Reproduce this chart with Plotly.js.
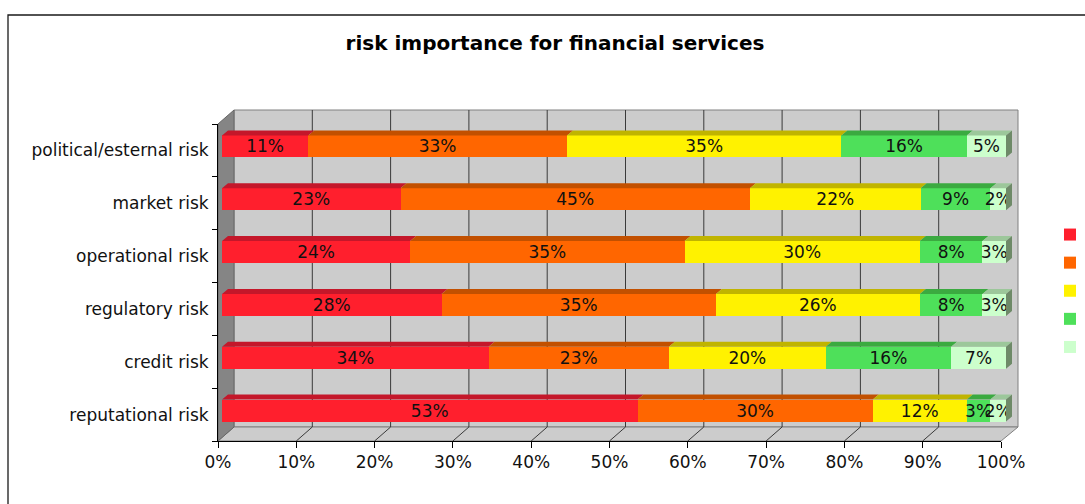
<!DOCTYPE html>
<html>
<head>
<meta charset="utf-8">
<script src="https://cdn.plot.ly/plotly-3.0.1.min.js"></script>
<style>
html,body{margin:0;padding:0;overflow:hidden;background:#fff;}
#chart{width:1085px;height:504px;}
</style>
</head>
<body>
<div id="chart"></div>
<script>
// ---------------- data ----------------
const categories = ['political/esternal risk','market risk','operational risk','regulatory risk','credit risk','reputational risk'];
const seriesNames = ['1','2','3','4','5'];
const s1 = [11,23,24,28,34,53];
const s2 = [33,45,35,35,23,30];
const s3 = [35,22,30,26,20,12];
const s4 = [16, 9, 8, 8,16, 3];
const s5 = [ 5, 2, 3, 3, 7, 2];
const pctTicks = [0,10,20,30,40,50,60,70,80,90,100];
const pctTickText = ['0%','10%','20%','30%','40%','50%','60%','70%','80%','90%','100%'];

// ---------------- styles ----------------
const frontColors = ['#FF1F2D','#FF6600','#FFF200','#4EE05A','#CCFFCC'];
const topColors   = ['#C4172A','#C25000','#C0B400','#3BAA40','#9CC79A'];
const sideColor   = '#6E8A68';

const W = 1085, H = 504;
const fx = p => p / W;
const fy = p => 1 - p / H;

// geometry (pixels)
const BAR_X0 = 222, PXU = 7.84;          // bar front face: 0% at 222, 7.84 px per %
const FRONT_X0 = 218, FRONT_X1 = 1001;   // front axis
const BACK_X0 = 234, BACK_X1 = 1018;     // back wall
const BACK_TOP = 110, BACK_BOT = 427;
const FRONT_TOP = 124, FRONT_BOT = 441;
const DEPTH_X = 16;
const ROW_PX = (FRONT_BOT - FRONT_TOP) / 6;
const BAR_W = 22 / ROW_PX;               // bar thickness in category units
const BAR_SHIFT = 4 / ROW_PX;            // bars sit slightly behind the front plane
const TOP_DY = 5 / ROW_PX;               // top face depth (category units)
const TOP_DX = 6 / PXU;                  // top face skew (x units)

const series = [s1,s2,s3,s4,s5];
const pos = categories.map((c,i) => categories.length - 1 - i);
const totals = categories.map((c,j) => series.reduce((a,s)=>a+s[j],0));

const traces = [];
// front faces
series.forEach((s,k) => {
  traces.push({
    type:'bar', orientation:'h', name: seriesNames[k],
    legendgroup: 'g'+k,
    x: s, y: pos,
    width: BAR_W, offset: BAR_SHIFT - BAR_W/2,
    marker:{color: frontColors[k], line:{width:0}},
    text: s.map(v => v + '%'),
    textposition:'inside', insidetextanchor:'middle', textangle:0,
    constraintext:'none', cliponaxis:false,
    textfont:{family:'DejaVu Sans', size:17, color:'#111'},
    hovertemplate: '%{y}: '+'%{text}<extra>'+seriesNames[k]+'</extra>'
  });
});
// top faces and side face (3D look), computed from the same arrays
const cum = categories.map(()=>0);
series.forEach((s,k) => {
  const xs = [], ys = [];
  s.forEach((v,j) => {
    const a = cum[j] / totals[j] * 100;
    const b = (cum[j] + v) / totals[j] * 100;
    cum[j] += v;
    const yt = pos[j] + BAR_SHIFT + BAR_W/2;
    xs.push(a, b, b + TOP_DX, a + TOP_DX, a, null);
    ys.push(yt, yt, yt + TOP_DY, yt + TOP_DY, yt, null);
  });
  traces.push({type:'scatter', mode:'lines', x: xs, y: ys, fill:'toself',
    fillcolor: topColors[k], line:{width:0}, hoverinfo:'skip', showlegend:false});
});
{
  const xs = [], ys = [];
  pos.forEach(p => {
    const yb = p + BAR_SHIFT - BAR_W/2, yt = p + BAR_SHIFT + BAR_W/2;
    xs.push(100, 100 + TOP_DX, 100 + TOP_DX, 100, 100, null);
    ys.push(yb, yb + TOP_DY, yt + TOP_DY, yt, yb, null);
  });
  traces.push({type:'scatter', mode:'lines', x: xs, y: ys, fill:'toself',
    fillcolor: sideColor, line:{width:0}, hoverinfo:'skip', showlegend:false});
}
// dummy trace so the front axis subplot exists
traces.push({type:'scatter', x:[null], y:[null], xaxis:'x2', yaxis:'y', showlegend:false, hoverinfo:'skip'});

// ---------------- decoration shapes (3D walls) ----------------
const shapes = [];
shapes.push({type:'rect', xref:'paper', yref:'paper', layer:'below',
  x0: fx(8), x1: fx(1100), y0: fy(15), y1: fy(520), line:{color:'#1a1a1a', width:1.3}, fillcolor:'rgba(0,0,0,0)'});
shapes.push({type:'rect', xref:'paper', yref:'paper', layer:'below',
  x0: fx(BACK_X0), x1: fx(BACK_X1), y0: fy(BACK_BOT), y1: fy(BACK_TOP),
  fillcolor:'#CCCCCC', line:{color:'#808080', width:1}});
shapes.push({type:'path', xref:'paper', yref:'paper', layer:'below',
  path: `M${fx(FRONT_X0)},${fy(FRONT_BOT)} L${fx(BACK_X0)},${fy(BACK_BOT)} L${fx(BACK_X1)},${fy(BACK_BOT)} L${fx(FRONT_X1)},${fy(FRONT_BOT)} Z`,
  fillcolor:'#CCCCCC', line:{color:'#808080', width:1}});
shapes.push({type:'path', xref:'paper', yref:'paper', layer:'below',
  path: `M${fx(FRONT_X0)},${fy(FRONT_TOP)} L${fx(BACK_X0)},${fy(BACK_TOP)} L${fx(BACK_X0)},${fy(BACK_BOT)} L${fx(FRONT_X0)},${fy(FRONT_BOT)} Z`,
  fillcolor:'#858585', line:{color:'#666666', width:1}});
pctTicks.forEach(t => {
  if (t > 0 && t < 100) {
    shapes.push({type:'line', xref:'x2', xsizemode:'pixel', xanchor:t, x0:DEPTH_X, x1:DEPTH_X,
      yref:'paper', y0: fy(BACK_BOT), y1: fy(BACK_TOP), layer:'below', line:{color:'#3a3a3a', width:1}});
  }
  if (t > 0) {
    shapes.push({type:'line', xref:'x2', xsizemode:'pixel', xanchor:t, x0:0, x1:DEPTH_X,
      yref:'paper', y0: fy(FRONT_BOT), y1: fy(BACK_BOT), layer:'below', line:{color:'#3a3a3a', width:1}});
  }
});

const layout = {
  width: W, height: H,
  margin:{l:0, r:0, t:0, b:0, autoexpand:false},
  paper_bgcolor:'#ffffff', plot_bgcolor:'rgba(0,0,0,0)',
  font:{family:'DejaVu Sans', size:17, color:'#111'},
  barmode:'stack', barnorm:'percent',
  title:{text:'risk importance for financial services', x: fx(555), xanchor:'center', xref:'paper',
    y: fy(43), yanchor:'middle', yref:'paper',
    font:{family:'DejaVu Sans', size:20, weight:700, color:'#000'}},
  xaxis:{domain:[fx(BAR_X0), fx(BAR_X0 + PXU*102)], range:[0,102], visible:false, fixedrange:true, anchor:'y'},
  xaxis2:{domain:[fx(FRONT_X0), fx(FRONT_X1)], range:[0,100], anchor:'y',
    tickmode:'array', tickvals: pctTicks, ticktext: pctTickText,
    ticks:'outside', ticklen:6, tickcolor:'#000', showline:true, linecolor:'#000', linewidth:1,
    showgrid:false, zeroline:false, fixedrange:true, tickfont:{size:17, color:'#111'}},
  yaxis:{domain:[fy(FRONT_BOT), fy(FRONT_TOP)], range:[-0.5, 5.5], anchor:'x2',
    tickmode:'array', tickvals: pos, ticktext: categories,
    ticks:'outside', ticklen:5, tickcolor:'rgba(0,0,0,0)',
    minor:{tick0:-0.5, dtick:1, ticks:'outside', ticklen:5, tickcolor:'#000', showgrid:false},
    showline:true, linecolor:'#000', linewidth:1,
    showgrid:false, zeroline:false, fixedrange:true, tickfont:{size:17, color:'#111'}},
  showlegend:true,
  legend:{x: fx(1050), xanchor:'left', y: fy(217), yanchor:'top', traceorder:'grouped',
    tracegroupgap:3, bgcolor:'rgba(0,0,0,0)', font:{size:17, color:'#111'}},
  shapes: shapes
};

Plotly.newPlot('chart', traces, layout, {displayModeBar:false, staticPlot:true});
</script>
</body>
</html>
